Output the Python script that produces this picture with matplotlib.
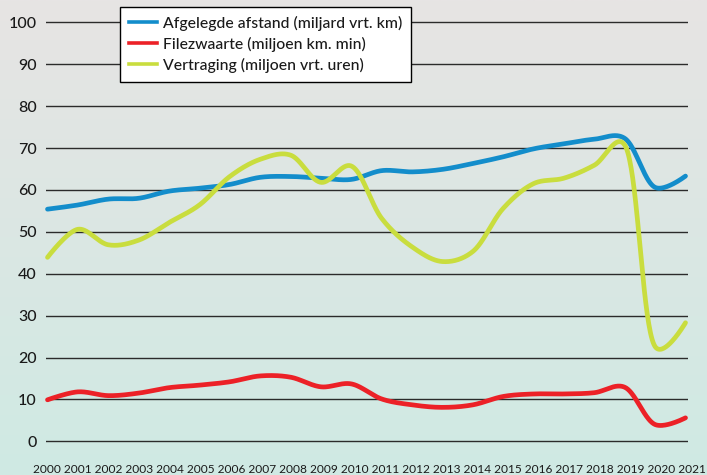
import numpy as np
import matplotlib
matplotlib.use("Agg")
import matplotlib.pyplot as plt
from matplotlib.lines import Line2D

plt.rcParams['font.family'] = ['Lato', 'DejaVu Sans']
plt.rcParams['font.weight'] = 'medium'

# ---- data ----
years = list(range(2000, 2022))
afstand = [55.4, 56.4, 57.8, 58.0, 59.7, 60.4, 61.3, 63.0, 63.2, 62.8, 62.5,
           64.6, 64.3, 64.9, 66.3, 67.9, 69.8, 71.0, 72.1, 72.3, 60.6, 63.3]
filezwaarte = [9.9, 11.8, 10.9, 11.5, 12.8, 13.4, 14.2, 15.6, 15.3, 13.0, 13.7,
               10.1, 8.7, 8.1, 8.7, 10.7, 11.3, 11.3, 11.6, 12.9, 4.0, 5.6]
vertraging = [43.9, 50.6, 46.9, 48.0, 52.2, 56.4, 63.2, 67.3, 68.3, 61.8, 65.7,
              53.2, 46.4, 42.9, 45.3, 55.6, 61.5, 62.8, 65.9, 70.7, 22.6, 28.3]
series_labels = ["Afgelegde afstand (miljard vrt. km)",
                 "Filezwaarte (miljoen km. min)",
                 "Vertraging (miljoen vrt. uren)"]
y_ticks = list(range(0, 101, 10))

colors = ["#138dcb", "#ec2127", "#c9dd3e"]

W, H = 707, 475
fig = plt.figure(figsize=(W / 100, H / 100), dpi=100)

# gradient background
bg = fig.add_axes([0, 0, 1, 1], zorder=-10)
top = np.array([231, 228, 228]) / 255
bot = np.array([207, 234, 227]) / 255
t = np.linspace(0, 1, 256)[:, None]
grad = (top[None, :] * (1 - t) + bot[None, :] * t)[:, None, :]
bg.imshow(grad, aspect='auto', extent=[0, 1, 0, 1], interpolation='bilinear')
bg.set_axis_off()

# main axes
x_left, x_right = 45.7, 688.3
x0px, x1px = 47.5, 685.5
ppy = (x1px - x0px) / 21
y100, y0 = 22.3, 441.3
ppu = (y0 - y100) / 100
ax = fig.add_axes([x_left / W, 1 - (y0 + ppu) / H, (x_right - x_left) / W, (y0 - y100 + 2 * ppu) / H])
ax.patch.set_alpha(0)
ax.set_xlim(2000 - (x0px - x_left) / ppy, 2021 + (x_right - x1px) / ppy)
ax.set_ylim(-1, 101)
for s in ax.spines.values():
    s.set_visible(False)
ax.set_xticks([])
ax.set_yticks(y_ticks)
ax.set_yticklabels([str(v) for v in y_ticks])
ax.tick_params(axis='y', length=0, pad=6.5, labelsize=11.5, labelcolor='#1a1a1a')
for v in y_ticks:
    ax.axhline(v, color='#2b2b2b', lw=1.0, zorder=1)


def catmull_rom(pts, alpha=0.25, n=40):
    pts = np.asarray(pts, float)
    out = [pts[:1]]
    eps = 1e-9
    N = len(pts)
    for i in range(N - 1):
        p1, p2 = pts[i], pts[i + 1]
        p0 = pts[i - 1] if i > 0 else None
        p3 = pts[i + 2] if i + 2 < N else None
        d12 = np.hypot(*(p2 - p1))
        l12_a, l12_2a = d12 ** alpha, d12 ** (2 * alpha)
        c1 = p1.copy()
        if p0 is not None:
            d01 = np.hypot(*(p1 - p0))
            l01_a, l01_2a = d01 ** alpha, d01 ** (2 * alpha)
            if l01_a > eps:
                a = 2 * l01_2a + 3 * l01_a * l12_a + l12_2a
                nn = 3 * l01_a * (l01_a + l12_a)
                c1 = (p1 * a - p0 * l12_2a + p2 * l01_2a) / nn
        c2 = p2.copy()
        if p3 is not None:
            d23 = np.hypot(*(p3 - p2))
            l23_a, l23_2a = d23 ** alpha, d23 ** (2 * alpha)
            if l23_a > eps:
                b = 2 * l23_2a + 3 * l23_a * l12_a + l12_2a
                m = 3 * l23_a * (l23_a + l12_a)
                c2 = (p2 * b + p1 * l23_2a - p3 * l12_2a) / m
        tt = np.linspace(0, 1, n)[1:, None]
        seg = ((1 - tt) ** 3) * p1 + 3 * ((1 - tt) ** 2) * tt * c1 + 3 * (1 - tt) * tt ** 2 * c2 + tt ** 3 * p2
        out.append(seg)
    return np.vstack(out)


def smooth_plot(vals, color, z):
    pix = ax.transData.transform(np.column_stack([years, vals]))
    curve = catmull_rom(pix)
    data = ax.transData.inverted().transform(curve)
    ax.plot(data[:, 0], data[:, 1], color=color, lw=3.4, solid_capstyle='round',
            solid_joinstyle='round', zorder=z, clip_on=False)


smooth_plot(afstand, colors[0], 3)
smooth_plot(filezwaarte, colors[1], 4)
smooth_plot(vertraging, colors[2], 5)

handles = [Line2D([], [], color=c, lw=2.6) for c in colors]
leg = fig.legend(handles, series_labels, loc='upper left',
                 bbox_to_anchor=(120 / W, 1 - 7 / H), frameon=True, fancybox=False,
                 fontsize=11.3, handlelength=1.8, handletextpad=0.38, labelspacing=0.38,
                 borderpad=0.56, borderaxespad=0)
leg.get_frame().set_edgecolor('black')
leg.get_frame().set_linewidth(1.0)
leg.get_frame().set_facecolor('white')
leg.get_frame().set_alpha(1)
leg.set_zorder(20)
for txt in leg.get_texts():
    txt.set_color('#1a1a1a')

# year labels as a single row of text
row = fig.text(33 / W, 1 - 473 / H, " ".join(str(y) for y in years), ha='left',
               va='baseline', fontsize=8.6, fontweight='normal', color='#1a1a1a')

fig.savefig("out.png", dpi=100)
